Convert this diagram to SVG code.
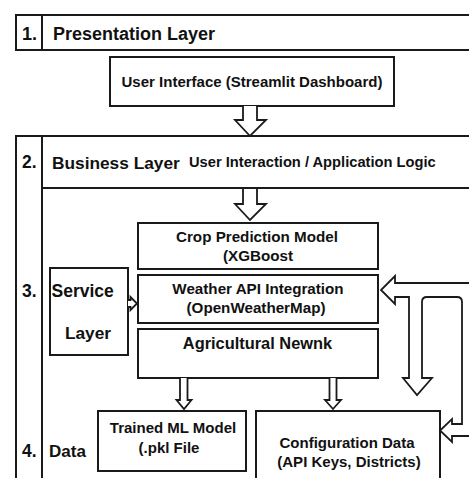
<svg xmlns="http://www.w3.org/2000/svg" width="469" height="478" viewBox="0 0 469 478">
<style>
.box{fill:#fff;stroke:#1a1a1a;stroke-width:2}
.ln{fill:none;stroke:#1a1a1a;stroke-width:2}
.arr{fill:#fff;stroke:#1a1a1a;stroke-width:1.8;stroke-linejoin:miter}
text{font-family:"Liberation Sans",Arial,Helvetica,sans-serif;font-weight:bold;fill:#111}
.c{text-anchor:middle}
</style>
<rect width="469" height="478" fill="#fff"/>
<g id="layer1">
<rect class="box" x="16" y="15" width="460" height="35"/>
<line class="ln" x1="42" y1="15" x2="42" y2="50"/>
<text x="22" y="40" font-size="18">1.</text>
<text x="53" y="40" font-size="18">Presentation Layer</text>
</g>
<g id="ui">
<rect class="box" x="110" y="57" width="284" height="49"/>
<text class="c" x="252" y="87" font-size="15">User Interface (Streamlit Dashboard)</text>
</g>
<g id="layer2">
<rect class="box" x="16" y="136" width="460" height="350"/>
<line class="ln" x1="42" y1="136" x2="42" y2="480"/>
<line class="ln" x1="42" y1="188" x2="469" y2="188"/>
<text x="22" y="168" font-size="17.5">2.</text>
<text x="52" y="169" font-size="17.3">Business Layer</text>
<text x="189" y="167" font-size="14.7">User Interaction / Application Logic</text>
</g>
<g id="layer3">
<text x="22" y="297" font-size="17.5">3.</text>
</g>
<g id="layer4">
<text x="22" y="457" font-size="17.5">4.</text>
<text x="49" y="457" font-size="17">Data</text>
</g>
<g id="service">
<rect class="box" x="50" y="268" width="78" height="87"/>
<text x="51.5" y="297" font-size="17.5">Service</text>
<text class="c" x="88" y="339" font-size="17.3">Layer</text>
</g>
<g id="crop">
<rect class="box" x="138" y="223" width="240" height="46"/>
<text class="c" x="257" y="241.5" font-size="15.2">Crop Prediction Model</text>
<text class="c" x="258" y="260.5" font-size="15.2">(XGBoost</text>
</g>
<g id="weather">
<rect class="box" x="138" y="275" width="240" height="48"/>
<text class="c" x="258" y="294" font-size="15.2">Weather API Integration</text>
<text class="c" x="256" y="313" font-size="15.2">(OpenWeatherMap)</text>
</g>
<g id="agri">
<rect class="box" x="138" y="329" width="240" height="49"/>
<text class="c" x="257.5" y="348.5" font-size="16.4">Agricultural Newnk</text>
</g>
<g id="trained">
<rect class="box" x="98" y="411" width="148" height="60"/>
<text class="c" x="173" y="433" font-size="15">Trained ML Model</text>
<text class="c" x="169" y="452.5" font-size="15">(.pkl File</text>
</g>
<g id="config">
<rect class="box" x="256" y="411" width="184" height="80"/>
<text class="c" x="347" y="447.5" font-size="15">Configuration Data</text>
<text class="c" x="349" y="466.5" font-size="15">(API Keys, Districts)</text>
</g>
<g id="connectors">
<path class="arr" d="M243,106 V120 H235 L250,136 L266,120 H257 V106"/>
<path class="arr" d="M243,189 V204 H235 L250,220 L266,204 H257 V189"/>
<path class="arr" d="M128,300 H130.5 V297 L137,303.5 L130.5,310 V307 H128"/>
<path class="arr" d="M180,378 V400 H176.5 L184,409 L191.5,400 H187.5 V378"/>
<path class="arr" d="M329.5,378 V400 H325 L333,409 L341,400 H336.5 V378"/>
<path class="arr" d="M471,283 H395 V276 L381,290 L395,304 V297 H409 V378 H403 L417,395 L432,378 H422 V302 Q422,297 427,297 H457 Q462,297 462,302 V424 H452 V419 L440,430.5 L452,442 V436 H471"/>
</g>
</svg>
